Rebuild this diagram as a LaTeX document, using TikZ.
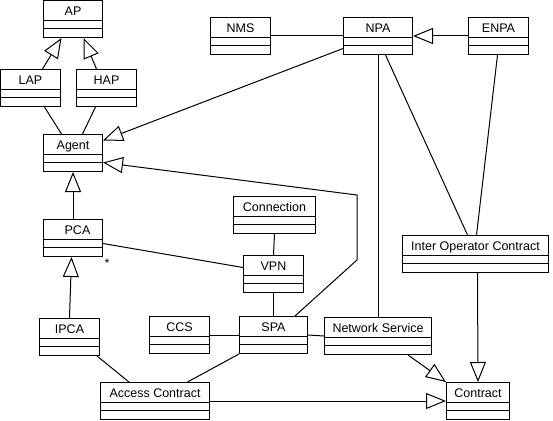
\documentclass[tikz,border=0pt]{standalone}
\usepackage{fontspec}
\setmainfont{Liberation Sans}
\usetikzlibrary{arrows.meta}

\begin{document}
\begin{tikzpicture}[x=1pt, y=-1pt, line width=1pt,
  umlclass/.style={draw, rectangle, anchor=north west, minimum height=37pt,
    inner ysep=5pt, text height=10pt, text depth=17pt,
    font=\fontsize{12.5}{14}\selectfont,
    path picture={\draw ([yshift=-20pt]path picture bounding box.north west) -- ([yshift=-20pt]path picture bounding box.north east)
      ([yshift=-28pt]path picture bounding box.north west) -- ([yshift=-28pt]path picture bounding box.north east);}},
  gen/.style={-{Triangle[open, length=20pt, width=16pt]}}]
\useasboundingbox (0,0) rectangle (553,420);

% classes
\node[umlclass, minimum width=59pt] (AP) at (43,0) {AP};
\node[umlclass, minimum width=60pt] (LAP) at (0,69) {LAP};
\node[umlclass, minimum width=60pt] (HAP) at (76,69) {HAP};
\node[umlclass, minimum width=59pt] (Agent) at (43,134) {Agent};
\node[umlclass, minimum width=60pt] (NMS) at (210,17) {NMS};
\node[umlclass, minimum width=69pt] (NPA) at (343,17) {NPA};
\node[umlclass, minimum width=60pt] (ENPA) at (468,17) {ENPA};
\node[umlclass, minimum width=59pt] (PCA) at (43,219) {\hspace{9pt}PCA};
\node[umlclass, minimum width=82pt] (Connection) at (233,196) {Connection};
\node[umlclass, minimum width=60pt] (VPN) at (243,255) {VPN};
\node[umlclass, minimum width=146pt] (IOC) at (402,235) {Inter Operator Contract};
\node[umlclass, minimum width=60pt] (IPCA) at (39,318) {IPCA\hspace{14pt}};
\node[umlclass, minimum width=60pt] (CCS) at (149,316) {CCS};
\node[umlclass, minimum width=68pt] (SPA) at (239,316) {SPA};
\node[umlclass, minimum width=107pt] (NS) at (324,317) {Network Service};
\node[umlclass, minimum width=109pt] (AC) at (100,382) {Access Contract};
\node[umlclass, minimum width=63pt] (Contract) at (446,382) {Contract};
\node[inner sep=0pt, font=\fontsize{12.5}{14}\selectfont] (star) at (107,263) {*};

% generalisations
\draw[gen] ([xshift=12pt]LAP.north) -- ([xshift=-11.5pt]AP.south);
\draw[gen] ([xshift=-10pt]HAP.north) -- ([xshift=10.5pt]AP.south);
\draw[gen] ([yshift=-12.5pt]NPA.west) -- ([yshift=12.5pt]Agent.east);
\draw[gen] ([xshift=-13pt]SPA.north east) -- (357,260) -- (357,195) -- ([yshift=-9.5pt]Agent.east);
\draw[gen] (PCA.north) -- (Agent.south);
\draw[gen] (IPCA.north) -- ([xshift=-1.5pt]PCA.south);
\draw[gen] (ENPA.west) -- (NPA.east);
\draw[gen] ([xshift=2pt]IOC.south) -- (Contract.north);
\draw[gen] ([xshift=-24pt]NS.south east) -- (Contract.north west);
\draw[gen] (AC.east) -- (Contract.west);

% associations
\draw ([xshift=14pt]LAP.south) -- ([xshift=-11.5pt]Agent.north);
\draw ([xshift=-11pt]HAP.south) -- ([xshift=9.5pt]Agent.north);
\draw ([yshift=-5.5pt]PCA.east) -- ([yshift=6.5pt]VPN.west);
\draw (Connection.south) -- (VPN.north);
\draw (VPN.south) -- (SPA.north);
\draw (NMS.east) -- (NPA.west);
\draw (NPA.south) -- (NS.north);
\draw ([xshift=7.5pt]NPA.south) -- ([xshift=-8pt]IOC.north);
\draw ([xshift=-1pt]ENPA.south) -- ([xshift=1pt]IOC.north);
\draw ([xshift=-3pt]IPCA.south east) -- ([xshift=29pt]AC.north west);
\draw (SPA.south west) -- ([xshift=32.5pt]AC.north);
\draw (CCS.east) -- (SPA.west);
\draw (SPA.east) -- (NS.west);

\end{tikzpicture}
\end{document}
